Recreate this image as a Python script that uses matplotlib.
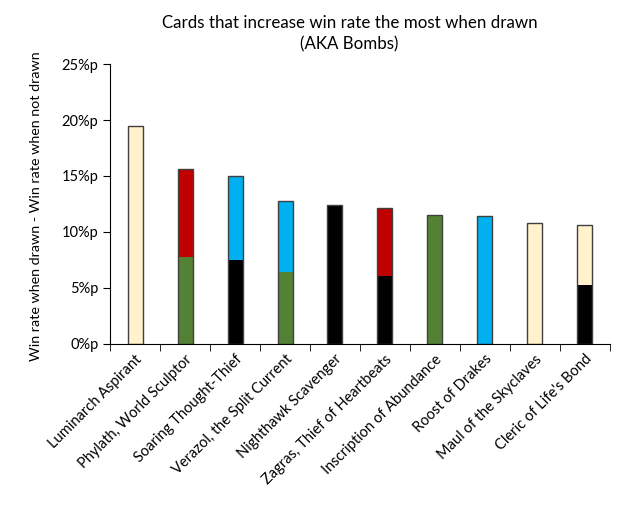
import matplotlib.pyplot as plt
import numpy as np

plt.rcParams['font.family'] = ['Lato', 'DejaVu Sans']

# Data
cards = ['Luminarch Aspirant', 'Phylath, World Sculptor', 'Soaring Thought-Thief',
         'Verazol, the Split Current', 'Nighthawk Scavenger', 'Zagras, Thief of Heartbeats',
         'Inscription of Abundance', 'Roost of Drakes', 'Maul of the Skyclaves',
         "Cleric of Life's Bond"]
win_diff = [19.5, 15.6, 15.0, 12.75, 12.4, 12.15, 11.55, 11.4, 10.8, 10.6]
# bottom half colour / top half colour
bottom_color = ['#FFF2CC', '#548235', '#000000', '#548235', '#000000', '#000000',
                '#548235', '#00B0F0', '#FFF2CC', '#000000']
top_color = ['#FFF2CC', '#C00000', '#00B0F0', '#00B0F0', '#000000', '#C00000',
             '#548235', '#00B0F0', '#FFF2CC', '#FFF2CC']

fig = plt.figure(figsize=(6.26, 5.17), dpi=100)
ax = fig.add_axes([0.176, 0.335, 0.798, 0.541])

x = np.arange(len(cards))
half = np.array(win_diff) / 2
w = 0.3
ax.bar(x, half, width=w, color=bottom_color, edgecolor='none', zorder=2)
ax.bar(x, half, width=w, bottom=half, color=top_color, edgecolor='none', zorder=2)
ax.bar(x, win_diff, width=w, color='none', edgecolor='#404040', linewidth=1, zorder=3)

ax.set_xlim(-0.5, len(cards) - 0.5)
ax.set_ylim(0, 25)
ax.set_yticks([0, 5, 10, 15, 20, 25])
ax.set_yticklabels([f'{v}%p' for v in [0, 5, 10, 15, 20, 25]], fontsize=10.5)
ax.set_xticks(x)
ax.set_xticklabels(cards, rotation=45, ha='right', rotation_mode='anchor', fontsize=10.5)
ax.set_xticks(np.arange(len(cards) + 1) - 0.5, minor=True)
ax.tick_params(axis='x', which='major', length=0, pad=6)
ax.tick_params(axis='x', which='minor', length=5, direction='out')
ax.tick_params(axis='y', length=5, direction='out')

ax.spines['top'].set_visible(False)
ax.spines['right'].set_visible(False)

fig.text(36 / 626, 1 - 206.5 / 517, 'Win rate when drawn - Win rate when not drawn',
         rotation=90, ha='center', va='center', fontsize=10.3)
fig.text(349.5 / 626, 1 - 28 / 517, 'Cards that increase win rate the most when drawn',
         ha='center', va='baseline', fontsize=12.2)
fig.text(349.5 / 626, 1 - 49 / 517, '(AKA Bombs)',
         ha='center', va='baseline', fontsize=12.2)

plt.savefig('out.png', dpi=100)
